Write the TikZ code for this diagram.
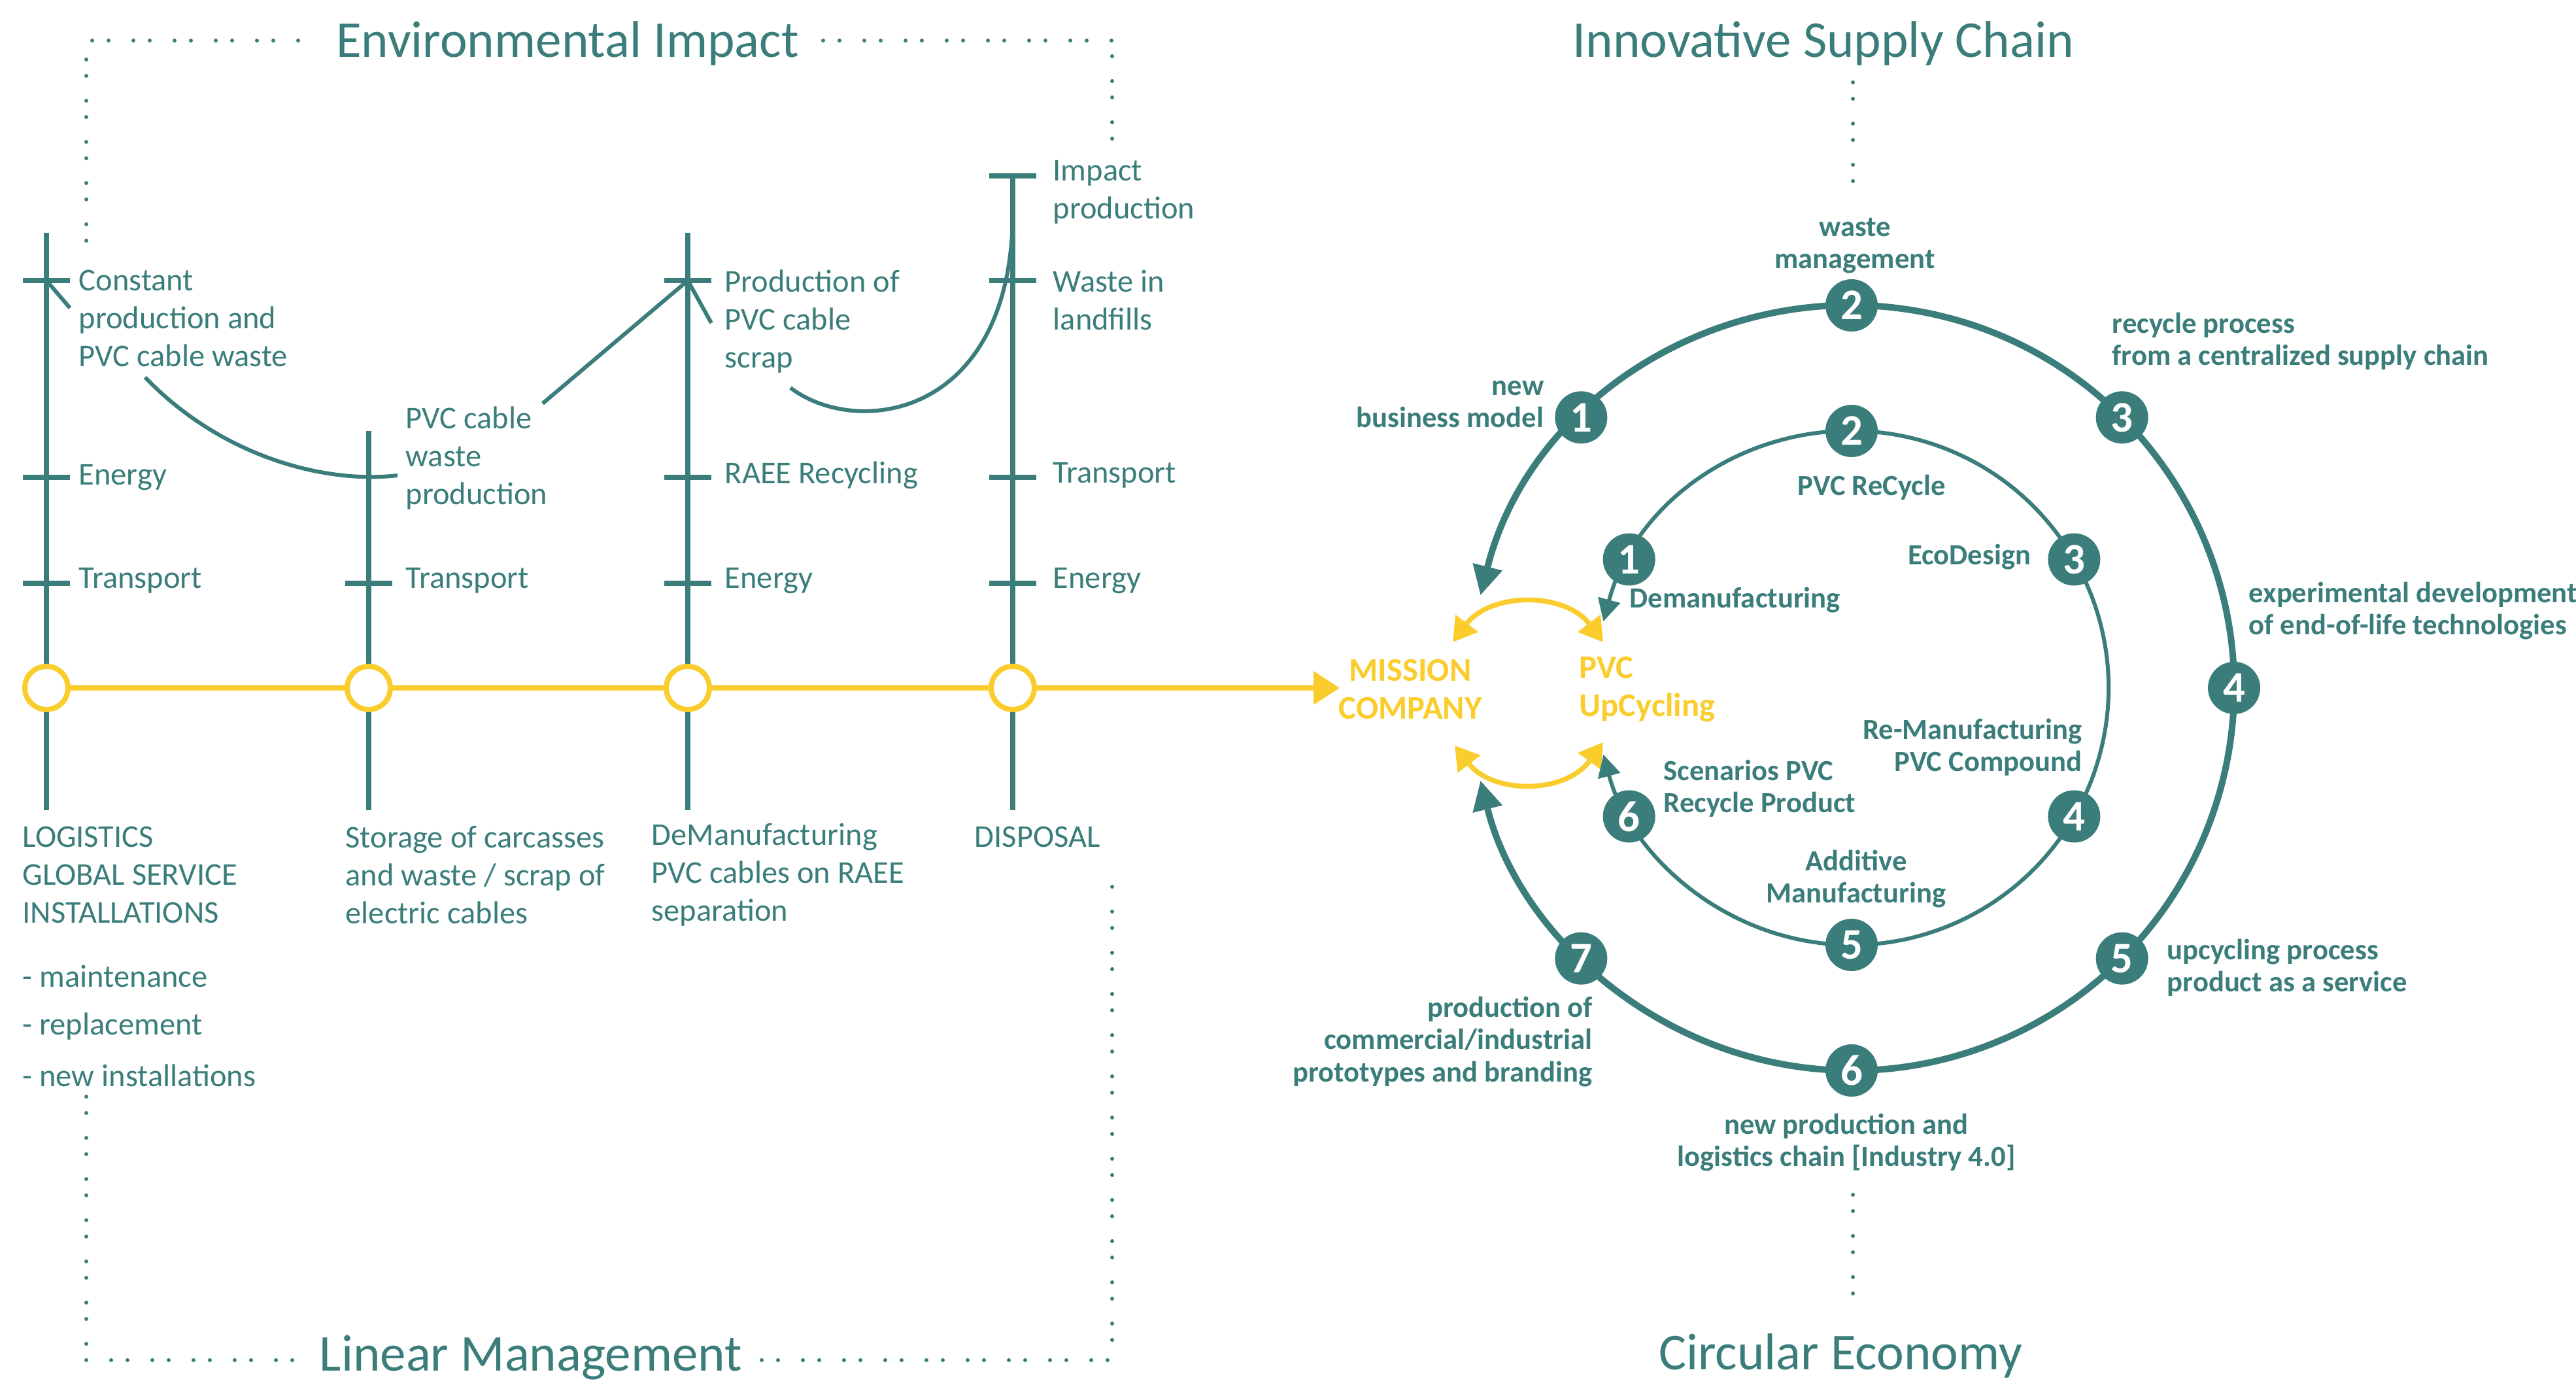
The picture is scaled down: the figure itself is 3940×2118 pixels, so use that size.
\documentclass[tikz,border=0pt]{standalone}
\usepackage{fontspec}
\setmainfont{Carlito}
\usetikzlibrary{arrows.meta,calc}
\definecolor{tealc}{RGB}{58,125,122}
\definecolor{ylw}{RGB}{250,205,45}
\begin{document}
\begin{tikzpicture}[x=0.1mm,y=-0.1mm,
  body/.style={text=tealc, font=\fontsize{13.8}{16.5}\selectfont, inner sep=0pt, align=left},
  lbl/.style={text=tealc, font=\bfseries\fontsize{12.7}{14}\selectfont, inner sep=0pt},
  ttl/.style={text=tealc, font=\fontsize{22.5}{26}\selectfont, inner sep=0pt},
  ytx/.style={text=ylw, font=\bfseries\fontsize{14.4}{16.5}\selectfont, inner sep=0pt},
  stem/.style={draw=tealc, line width=0.75mm},
  curv/.style={draw=tealc, line width=0.6mm, line join=round},
  dotl/.style={draw=tealc, line width=0.6mm, line cap=round, dash pattern=on 0pt off 2.5mm on 0pt off 3.8mm},
  yring/.style={circle, draw=ylw, line width=0.8mm, fill=white, minimum size=6.6mm, inner sep=0pt},
  yl/.style={draw=ylw, line width=0.75mm},
  num/.style={circle, fill=tealc, text=white, font=\bfseries\fontsize{19}{19}\selectfont, minimum size=8mm, inner sep=0pt},
  ring/.style={draw=tealc, line width=1mm},
  ringi/.style={draw=tealc, line width=0.6mm},
  bigtip/.tip={Triangle[length=4.5mm,width=4.4mm]},
  smalltip/.tip={Triangle[length=3.4mm,width=3.4mm]},
  ytip/.tip={Triangle[length=3.6mm,width=4.2mm]}
]
\useasboundingbox (0,0) rectangle (3940,2118);

% ---------- dotted frame (linear side) ----------
\coordinate (fTL) at (132,62);  \coordinate (fT1) at (465,62);
\coordinate (fT2) at (1259,62); \coordinate (fTR) at (1701,62);
\coordinate (fL1) at (132,368); \coordinate (fR1) at (1701,235);
\coordinate (fBL) at (132,2080); \coordinate (fB1) at (465,2080);
\coordinate (fB2) at (1165,2080); \coordinate (fBR) at (1701,2080);
\coordinate (fL2) at (132,1677); \coordinate (fR2) at (1701,1346);
\draw[dotl] (fL1) -- (fTL) -- (fT1);
\draw[dotl] (fT2) -- (fTR) -- (fR1);
\draw[dotl] (fL2) -- (fBL) -- (fB1);
\draw[dotl] (fB2) -- (fBR) -- (fR2);

% dotted (circular side)
\coordinate (cT1) at (2834,126); \coordinate (cT2) at (2834,302);
\coordinate (cB1) at (2834,1827); \coordinate (cB2) at (2834,2002);
\draw[dotl] (cT1) -- (cT2);
\draw[dotl] (cB1) -- (cB2);

% ---------- titles ----------
\node[ttl, anchor=base] (tEI) at (868,88) {Environmental Impact};
\node[ttl, anchor=base] (tLM) at (812,2096) {Linear Management};
\node[ttl, anchor=base] (tIS) at (2789,88) {Innovative Supply Chain};
\node[ttl, anchor=base] (tCE) at (2815,2094) {Circular Economy};

% ---------- stems ----------
\coordinate (s1t) at (71,356);   \coordinate (s1b) at (71,1239);
\coordinate (s2t) at (564,659);  \coordinate (s2b) at (564,1239);
\coordinate (s3t) at (1052,356); \coordinate (s3b) at (1052,1239);
\coordinate (s4t) at (1549,269); \coordinate (s4b) at (1549,1239);
\draw[stem] (s1t) -- (s1b);
\draw[stem] (s2t) -- (s2b);
\draw[stem] (s3t) -- (s3b);
\draw[stem] (s4t) -- (s4b);
\foreach \x/\y in {71/429,71/730,71/892,564/892,1052/429,1052/730,1052/892,1549/269,1549/429,1549/730,1549/892}
  \draw[stem] (\x-36,\y) -- (\x+36,\y);

% ---------- curves ----------
\draw[curv] (71,429) -- (107,471);
\draw[curv] (222,577) .. controls (340,700) and (500,740) .. (608,727);
\draw[curv] (830,617) -- (1052,429) -- (1088,494);
\draw[curv] (1209,593) .. controls (1310,670) and (1545,640) .. (1549,330);

% ---------- texts on stems ----------
\node[body, anchor=west] (a1) at (120,487) {Constant\\production and\\PVC cable waste};
\node[body, anchor=west] (a2) at (120,730) {Energy};
\node[body, anchor=west] (a3) at (120,888) {Transport};
\node[body, anchor=west] (b1) at (620,701) {PVC cable\\waste\\production};
\node[body, anchor=west] (b2) at (620,888) {Transport};
\node[body, anchor=west] (c1) at (1108,492) {Production of\\PVC cable\\scrap};
\node[body, anchor=west] (c2) at (1108,727) {RAEE Recycling};
\node[body, anchor=west] (c3) at (1108,888) {Energy};
\node[body, anchor=west] (d1) at (1610,294) {Impact\\production};
\node[body, anchor=west] (d2) at (1610,459) {Waste in\\landfills};
\node[body, anchor=west] (d3) at (1610,727) {Transport};
\node[body, anchor=west] (d4) at (1610,888) {Energy};

\node[body, anchor=west] (e1) at (34,1338) {LOGISTICS\\GLOBAL SERVICE\\INSTALLATIONS};
\node[body, anchor=west] (e2) at (34,1493) {- maintenance};
\node[body, anchor=west] (e3) at (34,1570) {- replacement};
\node[body, anchor=west] (e4) at (34,1645) {- new installations};
\node[body, anchor=west] (f1) at (528,1338) {Storage of carcasses\\and waste / scrap of\\electric cables};
\node[body, anchor=west] (g1) at (996,1338) {DeManufacturing\\PVC cables on RAEE\\separation};
\node[body, anchor=west] (h1) at (1490,1280) {DISPOSAL};

% ---------- yellow timeline ----------
\node[yring] (yc1) at (71,1052) {};
\node[yring] (yc2) at (564,1052) {};
\node[yring] (yc3) at (1052,1052) {};
\node[yring] (yc4) at (1549,1052) {};
\coordinate (ytipc) at (2049,1052);
\draw[yl] (yc1) -- (yc2);
\draw[yl] (yc2) -- (yc3);
\draw[yl] (yc3) -- (yc4);
\draw[yl, -{Triangle[length=4mm,width=5mm]}] (yc4) -- (ytipc);

% ---------- centre ----------
\node[ytx, align=center] (mc) at (2157,1054) {MISSION\\COMPANY};
\node[ytx, align=left, anchor=west] (pu) at (2415,1054) {PVC\\UpCycling};
\coordinate (ya1) at (2222,982);  \coordinate (ya2) at (2452,982);
\coordinate (yb1) at (2225,1140); \coordinate (yb2) at (2452,1135);
\draw[yl, ytip-ytip] (ya1) .. controls (2280,905) and (2394,905) .. (ya2);
\draw[yl, ytip-ytip] (yb1) .. controls (2283,1215) and (2394,1215) .. (yb2);

% ---------- circular economy rings ----------
\coordinate (C) at (2832,1052);
\draw[ring, bigtip-bigtip] ($(C)+(-166:585)$) arc[start angle=-166, end angle=166, radius=585];
\draw[ringi, smalltip-smalltip] ($(C)+(-165:393)$) arc[start angle=-165, end angle=165, radius=393];

\node[num] (o1) at ($(C)+(-135:585)$) {1};
\node[num] (o2) at ($(C)+(-90:585)$) {2};
\node[num] (o3) at ($(C)+(-45:585)$) {3};
\node[num] (o4) at ($(C)+(0:585)$) {4};
\node[num] (o5) at ($(C)+(45:585)$) {5};
\node[num] (o6) at ($(C)+(90:585)$) {6};
\node[num] (o7) at ($(C)+(135:585)$) {7};

\node[num] (i1) at ($(C)+(-150:393)$) {1};
\node[num] (i2) at ($(C)+(-90:393)$) {2};
\node[num] (i3) at ($(C)+(-30:393)$) {3};
\node[num] (i4) at ($(C)+(30:393)$) {4};
\node[num] (i5) at ($(C)+(90:393)$) {5};
\node[num] (i6) at ($(C)+(150:393)$) {6};

% outer labels
\node[lbl, align=center] (lo2) at (2837,376) {waste\\management};
\node[lbl, align=right, anchor=east] (lo1) at (2362,618) {new\\business model};
\node[lbl, align=left, anchor=west] (lo3) at (3230,522) {recycle process\\from a centralized supply chain};
\node[lbl, align=left, anchor=west] (lo4) at (3439,934) {experimental development\\of end-of-life technologies};
\node[lbl, align=left, anchor=west] (lo5) at (3314,1480) {upcycling process\\product as a service};
\node[lbl, align=center] (lo6) at (2824,1747) {new production and\\logistics chain [Industry 4.0]};
\node[lbl, align=right, anchor=east] (lo7) at (2436,1593) {production of\\commercial/industrial\\prototypes and branding};

% inner labels
\node[lbl] (li2) at (2863,745) {PVC ReCycle};
\node[lbl, anchor=east] (li3) at (3107,852) {EcoDesign};
\node[lbl, anchor=west] (li1) at (2492,918) {Demanufacturing};
\node[lbl, align=right, anchor=east] (li4) at (3185,1143) {Re-Manufacturing\\PVC Compound};
\node[lbl, align=left, anchor=west] (li6) at (2544,1206) {Scenarios PVC\\Recycle Product};
\node[lbl, align=center] (li5) at (2839,1344) {Additive\\Manufacturing};
\end{tikzpicture}
\end{document}
